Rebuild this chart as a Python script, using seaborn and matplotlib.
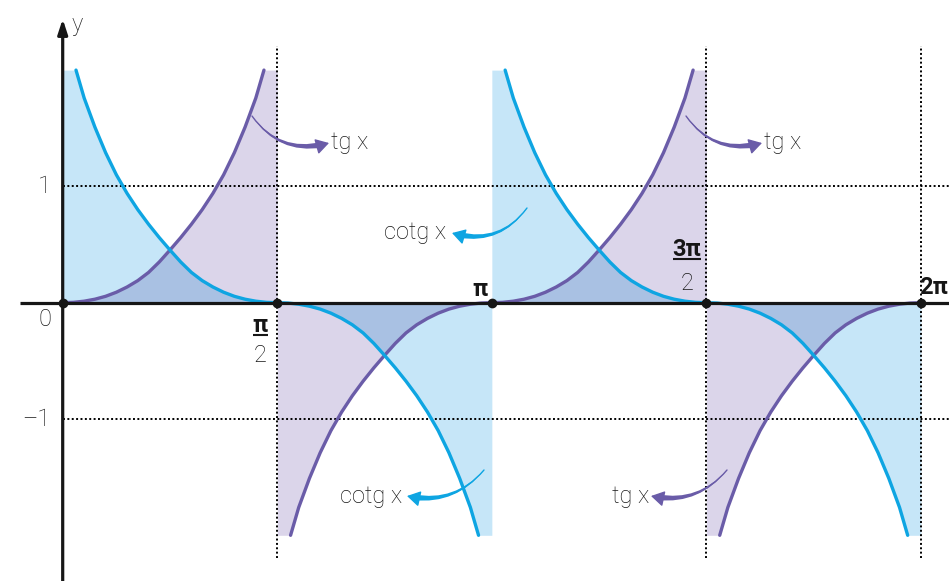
import numpy as np
import matplotlib
matplotlib.use("Agg")
import matplotlib.pyplot as plt
import seaborn as sns
from matplotlib.patches import FancyArrowPatch

# ---- data ----------------------------------------------------------------
# one branch of "tg x" on [0, pi/2): position as fraction of pi/2, value
branch_t = [0, .05, .1, .15, .2, .25, .3, .35, .4, .45, .5, .55, .6, .65,
            .7, .75, .8, .85, .9, .938]
branch_y = [0, .003, .013, .03, .055, .09, .135, .19, .26, .35, .453, .56,
            .675, .80, .94, 1.10, 1.29, 1.51, 1.76, 2.0]
y_cap = 2.0
grid_levels = [1, -1]
y_tick_labels = ["1", "\u20131"]
key_points_x = [0, np.pi / 2, np.pi, 3 * np.pi / 2, 2 * np.pi]
curve_names = ["tg x", "cotg x"]

# ---- style ----------------------------------------------------------------
sns.set_theme(style="white")
plt.rcParams["font.family"] = ["Roboto", "DejaVu Sans"]
BLUE = "#0ea5e2"
PURPLE = "#6a5ca8"
LBLUE = "#c6e6f8"
LPURPLE = "#dbd5ea"
OVER = "#a9c1e3"
INK = "#161616"
FS = 17

W, H_PX = 949, 581
fig = plt.figure(figsize=(W / 100, H_PX / 100), dpi=100)
ax = fig.add_axes([0, 0, 1, 1])
ax.set_axis_off()

# pixel mapping used only for layout of annotations
X0, SX = 62.7, 136.6
Y0, SY = 302.7, 116.3
def X(px):
    return (px - X0) / SX
def Y(py):
    return (Y0 - py) / SY

ax.set_xlim(X(0), X(W))
ax.set_ylim(Y(H_PX), Y(0))

HP = np.pi / 2
t = np.array(branch_t)
v = np.array(branch_y)
t_f = np.append(t, 1.0)
v_f = np.append(v, y_cap)

tg_br = [(0, 1, 1), (np.pi, -1, -1), (np.pi, 1, 1), (2 * np.pi, -1, -1)]
ct_br = [(HP, -1, 1), (HP, 1, -1), (3 * HP, -1, 1), (3 * HP, 1, -1)]

# fills
for base, d, s in ct_br:
    ax.fill_between(base + d * t_f * HP, 0, s * v_f, color=LBLUE, lw=0, zorder=1)
for base, d, s in tg_br:
    ax.fill_between(base + d * t_f * HP, 0, s * v_f, color=LPURPLE, lw=0, zorder=1)
half = t <= 0.5
for q in range(4):
    left, right = q * HP, (q + 1) * HP
    s = 1 if q % 2 == 0 else -1
    xs = np.concatenate([left + t[half] * HP, (right - t[half] * HP)[::-1]])
    ys = np.concatenate([s * v[half], (s * v[half])[::-1]])
    ax.fill(xs, ys, color=OVER, lw=0, zorder=2)

# dotted guides
dot = dict(color="black", lw=1.4, linestyle=(0, (1, 1.25)), zorder=3)
for xv in key_points_x[1::2] + [key_points_x[-1]]:
    ax.plot([xv, xv], [Y(558), Y(46)], **dot)
for yv in grid_levels:
    ax.plot([0, X(W)], [yv, yv], **dot)

# curves
for base, d, s in tg_br:
    sns.lineplot(x=base + d * t * HP, y=s * v, color=PURPLE, lw=2.4, ax=ax,
                 estimator=None, sort=False, zorder=5)
for base, d, s in ct_br:
    sns.lineplot(x=base + d * t * HP, y=s * v, color=BLUE, lw=2.4, ax=ax,
                 estimator=None, sort=False, zorder=5)

# axes
ax.plot([X(20), X(W)], [0, 0], color=INK, lw=2.3, zorder=6,
        solid_capstyle="butt")
ax.annotate("", xy=(0, Y(19)), xytext=(0, Y(H_PX + 5)),
            arrowprops=dict(arrowstyle="-|>,head_length=0.55,head_width=0.18",
                            lw=2.3, color=INK, shrinkA=0, shrinkB=0,
                            mutation_scale=16), zorder=6)
ax.plot(key_points_x, [0] * len(key_points_x), "o", color=INK, ms=6,
        zorder=7)

txt = dict(fontsize=FS, color=INK, fontweight="light", zorder=8)
pi_txt = dict(fontsize=FS, color=INK, fontweight="bold", zorder=8)
ax.text(X(71), Y(25), "y", ha="left", va="center", **txt)
ax.text(X(45), Y(320), "0", ha="center", va="center", **txt)
ax.text(X(44), 1, y_tick_labels[0], ha="center", va="center", **txt)
ax.text(X(50), -1, y_tick_labels[1], ha="right", va="center", **txt)

# fraction labels
def frac(cx, ytop, num, bar_w, ybar, yden):
    ax.text(X(cx), Y(ytop), num, ha="center", va="center", **pi_txt)
    ax.plot([X(cx - bar_w / 2), X(cx + bar_w / 2)], [Y(ybar), Y(ybar)],
            color=INK, lw=1.5, zorder=8, solid_capstyle="butt")
    ax.text(X(cx), Y(yden), "2", ha="center", va="center", **txt)

frac(260, 325, "\u03c0", 15, 335, 355)
frac(687, 249, "3\u03c0", 28, 259, 284)
ax.text(X(480), Y(289), "\u03c0", ha="center", va="center", **pi_txt)
ax.text(X(948), Y(288), "2\u03c0", ha="right", va="center", **pi_txt)

# curved, tapered arrows with labels
def arrow(p0, p1, rad, color):
    A = (X(p0[0]), Y(p0[1]))
    B = (X(p1[0]), Y(p1[1]))
    ax.add_patch(FancyArrowPatch(
        A, B, connectionstyle=f"arc3,rad={rad}",
        arrowstyle="-|>,head_length=0.5,head_width=0.3",
        mutation_scale=16, color=color, lw=1.0, zorder=7,
        shrinkA=0, shrinkB=0))
    ax.add_patch(FancyArrowPatch(
        B, A, connectionstyle=f"arc3,rad={-rad}",
        arrowstyle="wedge,tail_width=0.3,shrink_factor=0.5",
        mutation_scale=14, color=color, lw=0, zorder=7,
        shrinkA=5, shrinkB=0))

arrow((252, 116), (329, 143), 0.35, PURPLE)
ax.text(X(331), Y(143), curve_names[0], ha="left", va="center", **txt)
arrow((686, 116), (762, 143), 0.35, PURPLE)
ax.text(X(764), Y(143), curve_names[0], ha="left", va="center", **txt)
arrow((527, 208), (452, 233), -0.35, BLUE)
ax.text(X(446), Y(232), curve_names[1], ha="right", va="center", **txt)
arrow((484, 470), (407, 496), -0.3, BLUE)
ax.text(X(402), Y(497), curve_names[1], ha="right", va="center", **txt)
arrow((727, 470), (651, 496), -0.3, PURPLE)
ax.text(X(649), Y(497), curve_names[0], ha="right", va="center", **txt)

fig.savefig("out.png", dpi=100)
